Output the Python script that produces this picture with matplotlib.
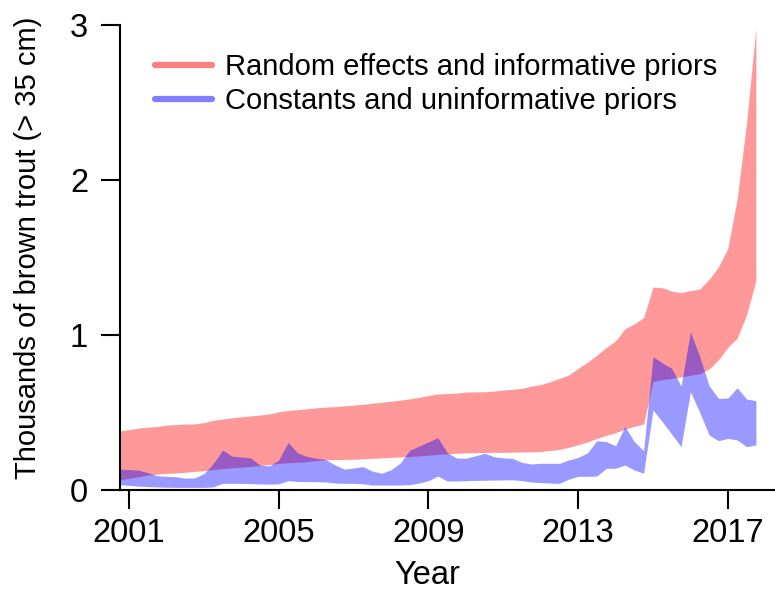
import numpy as np
import matplotlib
matplotlib.use('Agg')
import matplotlib.pyplot as plt
from matplotlib.lines import Line2D

plt.rcParams['font.family'] = ['Liberation Sans', 'DejaVu Sans']

# quarterly time steps, 2000.75 .. 2017.75
years = np.arange(2000.75, 2017.76, 0.25)

# random effects + informative priors (red band)
red_upper = [0.38, 0.39, 0.40, 0.405, 0.41, 0.418, 0.422, 0.425, 0.426, 0.435,
             0.45, 0.458, 0.466, 0.472, 0.478, 0.484, 0.49, 0.505, 0.513, 0.518,
             0.524, 0.53, 0.535, 0.538, 0.543, 0.548, 0.553, 0.56, 0.566, 0.573,
             0.58, 0.588, 0.598, 0.61, 0.619, 0.622, 0.625, 0.632, 0.633, 0.634,
             0.638, 0.645, 0.65, 0.656, 0.67, 0.68, 0.698, 0.72, 0.742, 0.785,
             0.825, 0.87, 0.92, 0.962, 1.04, 1.072, 1.112, 1.31, 1.305, 1.283,
             1.273, 1.286, 1.297, 1.36, 1.44, 1.56, 1.88, 2.37, 2.98]
red_lower = [0.065, 0.075, 0.085, 0.097, 0.102, 0.107, 0.11, 0.114, 0.12, 0.125,
             0.132, 0.138, 0.143, 0.147, 0.152, 0.158, 0.164, 0.172, 0.176, 0.179,
             0.182, 0.19, 0.195, 0.196, 0.197, 0.198, 0.201, 0.204, 0.207, 0.21,
             0.213, 0.216, 0.22, 0.224, 0.23, 0.234, 0.237, 0.24, 0.241, 0.242,
             0.243, 0.243, 0.244, 0.245, 0.246, 0.248, 0.255, 0.262, 0.275, 0.292,
             0.31, 0.333, 0.352, 0.37, 0.393, 0.41, 0.426, 0.70, 0.712, 0.72,
             0.73, 0.74, 0.75, 0.78, 0.84, 0.92, 0.98, 1.13, 1.35]

# constants + uninformative priors (blue band)
blue_upper = [0.135, 0.132, 0.129, 0.112, 0.092, 0.088, 0.086, 0.076, 0.078, 0.105,
              0.17, 0.258, 0.219, 0.213, 0.207, 0.16, 0.155, 0.194, 0.307, 0.24,
              0.217, 0.205, 0.197, 0.162, 0.135, 0.142, 0.151, 0.122, 0.108, 0.13,
              0.175, 0.256, 0.283, 0.31, 0.338, 0.242, 0.206, 0.205, 0.22, 0.237,
              0.215, 0.207, 0.204, 0.178, 0.168, 0.172, 0.172, 0.172, 0.194, 0.21,
              0.24, 0.318, 0.312, 0.285, 0.409, 0.312, 0.254, 0.86, 0.82, 0.785,
              0.67, 1.021, 0.86, 0.672, 0.591, 0.593, 0.66, 0.587, 0.576]
blue_lower = [0.035, 0.03, 0.025, 0.022, 0.02, 0.018, 0.017, 0.017, 0.017, 0.017,
              0.02, 0.043, 0.043, 0.043, 0.041, 0.039, 0.038, 0.04, 0.06, 0.055,
              0.054, 0.054, 0.052, 0.045, 0.043, 0.043, 0.04, 0.032, 0.032, 0.032,
              0.032, 0.035, 0.045, 0.06, 0.09, 0.058, 0.058, 0.06, 0.062, 0.063,
              0.064, 0.065, 0.066, 0.06, 0.052, 0.048, 0.045, 0.043, 0.07, 0.088,
              0.088, 0.09, 0.14, 0.14, 0.161, 0.129, 0.108, 0.516, 0.44, 0.36,
              0.28, 0.634, 0.5, 0.355, 0.318, 0.333, 0.323, 0.28, 0.29]

labels = ['Random effects and informative priors', 'Constants and uninformative priors']
xticks = [2001, 2005, 2009, 2013, 2017]
yticks = [0, 1, 2, 3]

fig = plt.figure(figsize=(7.75, 5.94), dpi=100)
ax = fig.add_axes([120 / 775, 104 / 594, 655 / 775, 465 / 594])

ax.fill_between(years, red_lower, red_upper, color='red', alpha=0.4, lw=0)
ax.fill_between(years, blue_lower, blue_upper, color='blue', alpha=0.4, lw=0)

ax.set_xlim(2000.76, 2018.26)
ax.set_ylim(0, 3)
ax.set_xticks(xticks)
ax.set_yticks(yticks)
ax.spines['top'].set_visible(False)
ax.spines['right'].set_visible(False)
for s in ['left', 'bottom']:
    ax.spines[s].set_linewidth(1.5)
ax.tick_params(axis='both', direction='out', length=14, width=1.5, labelsize=23.5)
ax.tick_params(axis='y', pad=9)
ax.tick_params(axis='x', pad=6)

ax.set_xlabel('Year', fontsize=23.5, labelpad=8, x=0.469)
ax.set_ylabel('Thousands of brown trout (> 35 cm)', fontsize=21, labelpad=20, y=0.52)

handles = [Line2D([], [], color='red', alpha=0.5, lw=4.5, solid_capstyle='round'),
           Line2D([], [], color='blue', alpha=0.5, lw=4.5, solid_capstyle='round')]
ax.legend(handles, labels, loc='upper left', bbox_to_anchor=(0.053, 0.94),
          frameon=False, fontsize=21, handlelength=1.95, handletextpad=0.45,
          labelspacing=0.22, borderpad=0, borderaxespad=0)

fig.savefig('out.png', dpi=100)
